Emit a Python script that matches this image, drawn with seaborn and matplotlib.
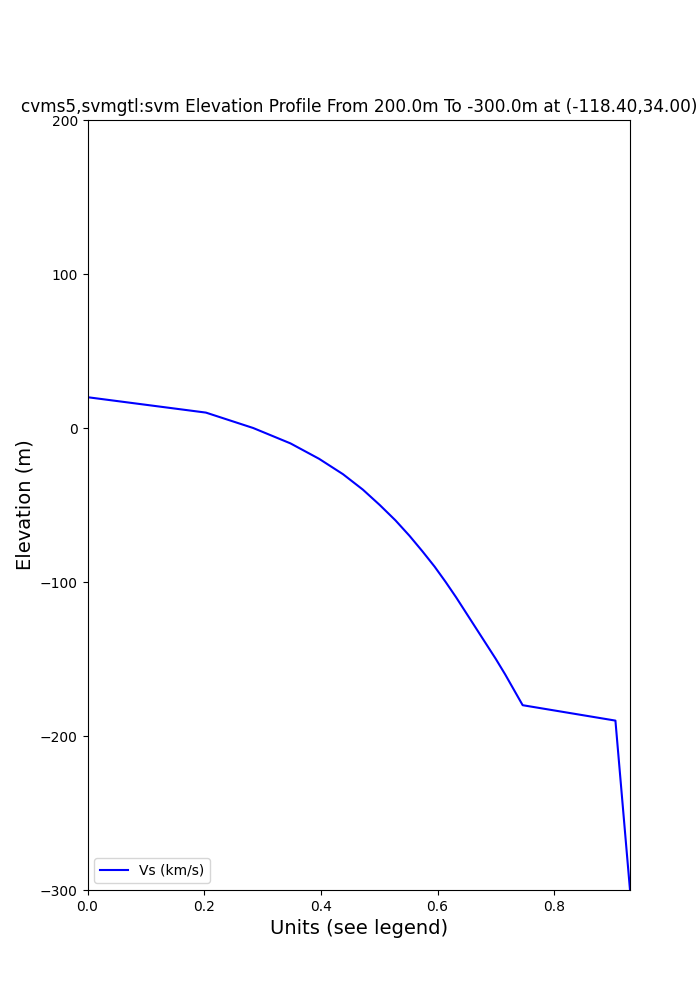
import matplotlib
matplotlib.use("Agg")
import matplotlib.pyplot as plt
import seaborn as sns
import pandas as pd

# Vs profile
elevation = [20, 10, 0, -10, -20, -30, -40, -50, -60, -70, -80, -90, -100,
             -110, -120, -130, -140, -150, -160, -170, -180, -190, -300]
vs = [0.0, 0.203, 0.284, 0.348, 0.397, 0.438, 0.472, 0.501, 0.528, 0.552,
      0.574, 0.595, 0.614, 0.632, 0.649, 0.666, 0.683, 0.700, 0.716, 0.731,
      0.746, 0.905, 0.930]

title = "cvms5,svmgtl:svm Elevation Profile From 200.0m To -300.0m at (-118.40,34.00)"

df = pd.DataFrame({"vs": vs, "elev": elevation})

fig = plt.figure(figsize=(7, 10), dpi=100)
ax = fig.add_subplot(111)

sns.lineplot(data=df, x="vs", y="elev", sort=False, estimator=None,
             color="blue", label="Vs (km/s)", ax=ax)

ax.set_xlim(0, max(vs))
ax.set_ylim(-300, 200)
ax.set_yticks([-300, -200, -100, 0, 100, 200])
ax.set_xlabel("Units (see legend)", fontsize=14)
ax.set_ylabel("Elevation (m)", fontsize=14)
ax.set_title(title, fontsize=12.15)
ax.legend(loc="lower left")

fig.savefig("out.png", dpi=100)
